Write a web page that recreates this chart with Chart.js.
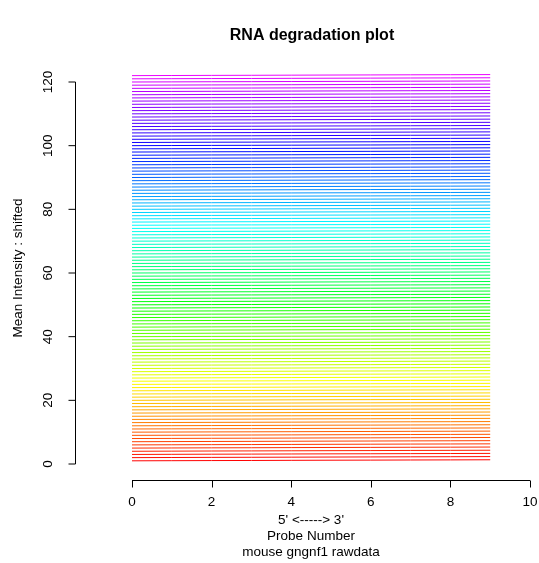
<!DOCTYPE html>
<html>
<head>
<meta charset="utf-8">
<script src="https://cdn.jsdelivr.net/npm/chart.js@4"></script>
<style>
  body { margin: 0; background: #fff; }
  #wrap { width: 539px; height: 563px; }
</style>
</head>
<body>
<div id="wrap"><canvas id="chart" width="539" height="563"></canvas></div>
<script>
// probe positions along the transcript (5' -> 3')
const probeNumbers = [0, 1, 2, 3, 4, 5, 6, 7, 8, 9];
// mean intensity relative to probe 0 (lines are almost flat, slight rise)
const probeProfile = [0, 0.04, 0.08, 0.11, 0.15, 0.19, 0.22, 0.26, 0.29, 0.33];
// shift applied to each array (one line per array)
const sampleShifts = [
  1, 2, 3, 4, 5, 6, 7, 8, 9, 10, 11, 12, 13, 14, 15, 16, 17, 18, 19, 20,
  21, 22, 23, 24, 25, 26, 27, 28, 29, 30, 31, 32, 33, 34, 35, 36, 37, 38, 39, 40,
  41, 42, 43, 44, 45, 46, 47, 48, 49, 50, 51, 52, 53, 54, 55, 56, 57, 58, 59, 60,
  61, 62, 63, 64, 65, 66, 67, 68, 69, 70, 71, 72, 73, 74, 75, 76, 77, 78, 79, 80,
  81, 82, 83, 84, 85, 86, 87, 88, 89, 90, 91, 92, 93, 94, 95, 96, 97, 98, 99, 100,
  101, 102, 103, 104, 105, 106, 107, 108, 109, 110, 111, 112, 113, 114, 115, 116, 117, 118, 119, 120,
  121, 122
];
const yTicks = [0, 20, 40, 60, 80, 100, 120];
const xTicks = [0, 2, 4, 6, 8, 10];

const FONT = '"Liberation Sans", Arial, Helvetica, sans-serif';

// rainbow colour for line i (red at the bottom, magenta at the top)
function lineColor(i, n) {
  const h = i / (n - 1) * 0.82 * 6;
  const k = Math.floor(h) % 6;
  const f = h - Math.floor(h);
  const q = Math.round(255 * (1 - f));
  const t = Math.round(255 * f);
  const rgb = [[255, t, 0], [q, 255, 0], [0, 255, t], [0, q, 255], [t, 0, 255], [255, 0, q]][k];
  return 'rgb(' + rgb.join(',') + ')';
}

const datasets = sampleShifts.map((s, i) => ({
  data: probeNumbers.map((x, j) => ({ x: x, y: s + probeProfile[j] })),
  borderColor: lineColor(i, sampleShifts.length),
  borderWidth: 1,
  pointRadius: 0,
  fill: false,
  tension: 0
}));

// R style axes and titles
const rAxes = {
  id: 'rAxes',
  afterDraw(chart) {
    const ctx = chart.ctx;
    const xs = chart.scales.x, ys = chart.scales.y;
    ctx.save();
    ctx.strokeStyle = '#000';
    ctx.fillStyle = '#000';
    ctx.lineWidth = 1;

    // y axis
    const ax = 75.5;
    ctx.beginPath();
    ctx.moveTo(ax, ys.getPixelForValue(yTicks[0]));
    ctx.lineTo(ax, ys.getPixelForValue(yTicks[yTicks.length - 1]));
    yTicks.forEach(v => {
      const py = ys.getPixelForValue(v);
      ctx.moveTo(ax, py);
      ctx.lineTo(ax - 7, py);
    });
    ctx.stroke();
    ctx.font = '13.5px ' + FONT;
    ctx.textAlign = 'center';
    ctx.textBaseline = 'middle';
    yTicks.forEach(v => {
      ctx.save();
      ctx.translate(48, ys.getPixelForValue(v));
      ctx.rotate(-Math.PI / 2);
      ctx.fillText(String(v), 0, 0);
      ctx.restore();
    });
    ctx.save();
    ctx.translate(18, 268);
    ctx.rotate(-Math.PI / 2);
    ctx.fillText('Mean Intensity : shifted', 0, 0);
    ctx.restore();

    // x axis
    const ay = 480.5;
    ctx.beginPath();
    ctx.moveTo(xs.getPixelForValue(xTicks[0]), ay);
    ctx.lineTo(xs.getPixelForValue(xTicks[xTicks.length - 1]), ay);
    xTicks.forEach(v => {
      const px = Math.round(xs.getPixelForValue(v)) + 0.5;
      ctx.moveTo(px, ay);
      ctx.lineTo(px, ay + 7);
    });
    ctx.stroke();
    xTicks.forEach(v => {
      ctx.fillText(String(v), xs.getPixelForValue(v), 502);
    });
    ctx.fillText("5' <-----> 3'", 311, 520);
    ctx.fillText('Probe Number', 311, 536);
    ctx.fillText('mouse gngnf1 rawdata', 311, 552);

    // main title
    ctx.font = 'bold 16px ' + FONT;
    ctx.fillText('RNA degradation plot', 312, 36);
    ctx.restore();
  }
};

new Chart(document.getElementById('chart'), {
  type: 'line',
  data: { datasets: datasets },
  options: {
    responsive: false,
    animation: false,
    events: [],
    layout: { padding: { left: 92.2, right: 5, top: 69.27, bottom: 92.63 } },
    plugins: { legend: { display: false }, title: { display: false }, tooltip: { enabled: false } },
    scales: {
      x: { type: 'linear', min: -1, max: 10.1, display: false },
      y: { type: 'linear', min: -2, max: 124, display: false }
    }
  },
  plugins: [rAxes]
});
</script>
</body>
</html>
